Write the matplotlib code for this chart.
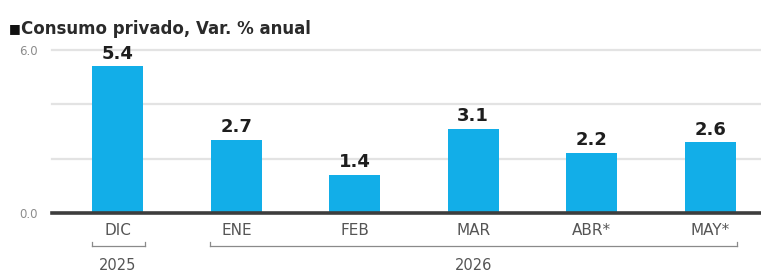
import matplotlib.pyplot as plt

months = ['DIC', 'ENE', 'FEB', 'MAR', 'ABR*', 'MAY*']
values = [5.4, 2.7, 1.4, 3.1, 2.2, 2.6]
years = ['2025', '2026']
year_groups = [(0, 0), (1, 5)]

bar_color = '#12aee8'

fig = plt.figure(figsize=(7.61, 2.73), dpi=100)
ax = fig.add_axes([0.0683, 0.2198, 0.9317, 0.597])

x = list(range(len(months)))
ax.bar(x, values, width=0.43, color=bar_color, zorder=3)

for xi, v in zip(x, values):
    ax.text(xi, v + 0.14, f'{v:.1f}', ha='center', va='bottom',
            fontsize=13, fontweight='bold', color='#1e1e1e', zorder=4)

ax.set_xlim(-0.557, 5.43)
ax.set_ylim(0, 6.0)

# light gridlines, only 0.0 and 6.0 labelled
for g in [2.0, 4.0, 6.0]:
    ax.axhline(g, color='#e3e3e3', lw=1.6, zorder=1, clip_on=False)
ax.axhline(0, color='#3d3d3d', lw=2.6, zorder=5, clip_on=False)

ax.set_yticks([0.0, 6.0])
ax.set_yticklabels(['0.0', '6.0'], fontsize=8.5, color='#8c8c8c')
ax.tick_params(axis='y', length=0, pad=10)

ax.set_xticks(x)
ax.set_xticklabels(months, fontsize=11, color='#555555')
ax.tick_params(axis='x', length=0, pad=7)

for s in ax.spines.values():
    s.set_visible(False)

# year brackets under the month labels
tr = ax.get_xaxis_transform()
for (a, b), yr in zip(year_groups, years):
    x0, x1 = a - 0.22, b + 0.23
    yb = -0.205
    ax.plot([x0, x1], [yb, yb], color='#8a8a8a', lw=0.9, transform=tr, clip_on=False)
    ax.plot([x0, x0], [yb, yb + 0.025], color='#8a8a8a', lw=0.9, transform=tr, clip_on=False)
    ax.plot([x1, x1], [yb, yb + 0.025], color='#8a8a8a', lw=0.9, transform=tr, clip_on=False)
    mid = 0 if a == b else 3
    ax.text(mid, -0.32, yr, transform=tr, ha='center', va='center',
            fontsize=10.5, color='#555555')

fig.text(0.012, 0.895, '■', fontsize=9, color='#111111', va='center', ha='left')
fig.text(0.027, 0.893, 'Consumo privado, Var. % anual', fontsize=12,
         color='#2a2a2a', va='center', ha='left', fontweight='bold')

fig.savefig('out.png', dpi=100)
